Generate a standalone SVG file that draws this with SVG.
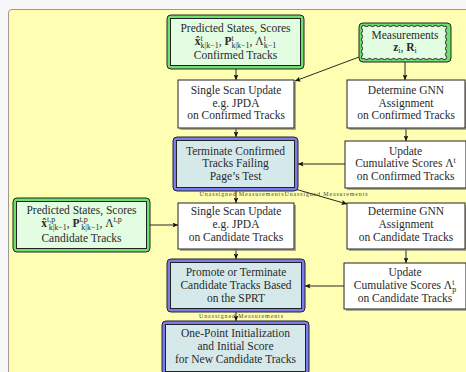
<svg xmlns="http://www.w3.org/2000/svg" width="466" height="372" viewBox="0 0 466 372" font-family="Liberation Serif, serif">
  <defs>
    <marker id="arr" markerUnits="userSpaceOnUse" markerWidth="6" markerHeight="5" refX="5.5" refY="2.5" orient="auto">
      <path d="M0,0 L5.5,2.5 L0,5 L1.2,2.5 z" fill="#111"/>
    </marker>
  </defs>
  <style>
    .t, .lbl { font-family: 'Liberation Serif', serif; fill: #2a2a2a; }
    .t { font-size: 11.5px; text-anchor: middle; }
    .s { font-size: 8px; }
    .b { font-weight: bold; }
    .lbl { font-size: 6px; fill: #4a4a30; text-anchor: middle; }
    .white { fill: #ffffff; stroke: #222; stroke-width: 1; }
    .shadow { fill: #8a8a7a; opacity: 0.7; }
    .gOut { fill: #6ee06e; stroke: #222; stroke-width: 1; }
    .gIn { fill: #e2fde2; stroke: #222; stroke-width: 1; }
    .bOut { fill: #7b7bf0; stroke: #222; stroke-width: 1; }
    .bIn { fill: #d6e9ea; stroke: #222; stroke-width: 1; }
    .edge { fill: none; stroke: #111; stroke-width: 0.9; marker-end: url(#arr); }
  </style>

  <!-- page and panel -->
  <rect x="0" y="0" width="466" height="372" fill="#f7f7f7"/>
  <rect x="8.5" y="9.5" width="470" height="370" rx="3.5" fill="#ffffb4" stroke="#9a9a9a" stroke-width="1"/>

  <!-- connectors -->
  <g id="connectors">
    <line class="edge" x1="236" y1="69" x2="236" y2="80"/>
    <line class="edge" x1="359" y1="57" x2="295" y2="81"/>
    <line class="edge" x1="405" y1="62" x2="405" y2="80"/>
    <line class="edge" x1="236" y1="128" x2="236" y2="137"/>
    <line class="edge" x1="406" y1="128" x2="406" y2="141"/>
    <line class="edge" x1="345" y1="164" x2="298" y2="164"/>
    <line class="edge" x1="236" y1="191" x2="236" y2="203"/>
    <line class="edge" x1="295" y1="189" x2="347" y2="204"/>
    <line class="edge" x1="150" y1="225" x2="178" y2="225"/>
    <line class="edge" x1="236" y1="249" x2="236" y2="259"/>
    <line class="edge" x1="406" y1="249" x2="406" y2="263"/>
    <line class="edge" x1="344" y1="286" x2="305" y2="286"/>
    <line class="edge" x1="236" y1="312" x2="236" y2="321"/>
    <text class="lbl" x="241.5" y="196" textLength="84" lengthAdjust="spacing">Unassigned Measurements</text>
    <text class="lbl" x="326" y="196" textLength="83" lengthAdjust="spacing">Unassigned Measurements</text>
    <text class="lbl" x="241" y="318" textLength="84" lengthAdjust="spacing">Unassigned Measurements</text>
  </g>

  <!-- predicted confirmed tracks -->
  <g id="predConf">
    <rect class="gOut" x="167" y="15" width="137" height="54" rx="4"/>
    <rect class="gIn" x="170.5" y="18.5" width="130" height="47"/>
    <text class="t" x="235.5" y="31.5">Predicted States, Scores</text>
    <text class="t" x="235.5" y="45"><tspan class="b">x̂</tspan><tspan class="s" dy="-4.5">t</tspan><tspan class="s" dx="-2.2" dy="7.5">k|k−1</tspan><tspan dy="-3">, </tspan><tspan class="b">P</tspan><tspan class="s" dy="-4.5">t</tspan><tspan class="s" dx="-2.2" dy="7.5">k|k−1</tspan><tspan dy="-3">, Λ</tspan><tspan class="s" dy="-4.5">t</tspan><tspan class="s" dx="-2.2" dy="7.5">k−1</tspan></text>
    <text class="t" x="235.5" y="59">Confirmed Tracks</text>
  </g>

  <!-- measurements -->
  <g id="meas">
    <rect class="gOut" x="359" y="23" width="92" height="39" rx="4"/>
    <path class="gIn" d="M362,26 q1.5,-1.2 3,0 t3,0 t3,0 t3,0 t3,0 t3,0 t3,0 t3,0 t3,0 t3,0 t3,0 t3,0 t3,0 t3,0 t3,0 t3,0 t3,0 t3,0 t3,0 t3,0 t3,0 t3,0 t3,0 t3,0 t3,0 t3,0 t3,0 t3,0 q1.2,1.5 0,3 t0,3 t0,3 t0,3 t0,3 t0,3 t0,3 t0,3 t0,3 t0,3 t0,3 q-1.5,1.2 -3,0 t-3,0 t-3,0 t-3,0 t-3,0 t-3,0 t-3,0 t-3,0 t-3,0 t-3,0 t-3,0 t-3,0 t-3,0 t-3,0 t-3,0 t-3,0 t-3,0 t-3,0 t-3,0 t-3,0 t-3,0 t-3,0 t-3,0 t-3,0 t-3,0 t-3,0 t-3,0 t-3,0 q-1.2,-1.5 0,-3 t0,-3 t0,-3 t0,-3 t0,-3 t0,-3 t0,-3 t0,-3 t0,-3 t0,-3 t0,-3 z"/>
    <text class="t" x="405" y="38.5">Measurements</text>
    <text class="t" x="405" y="50.5"><tspan class="b">z</tspan><tspan class="s" dy="2.5">i</tspan><tspan dy="-2.5">, </tspan><tspan class="b">R</tspan><tspan class="s" dy="2.5">i</tspan></text>
  </g>

  <!-- single scan update, confirmed -->
  <g id="ssConf">
    <rect class="shadow" x="180" y="82" width="116" height="48"/>
    <rect class="white" x="178" y="80" width="116" height="48"/>
    <text class="t" x="236" y="94">Single Scan Update</text>
    <text class="t" x="236" y="106.5">e.g. JPDA</text>
    <text class="t" x="236" y="119">on Confirmed Tracks</text>
  </g>

  <!-- GNN assignment, confirmed -->
  <g id="gnnConf">
    <rect class="shadow" x="349" y="82" width="118" height="48"/>
    <rect class="white" x="347" y="80" width="118" height="48"/>
    <text class="t" x="406" y="94">Determine GNN</text>
    <text class="t" x="406" y="106.5">Assignment</text>
    <text class="t" x="406" y="119">on Confirmed Tracks</text>
  </g>

  <!-- terminate confirmed -->
  <g id="termConf">
    <rect class="bOut" x="173" y="137" width="125" height="54" rx="4"/>
    <rect class="bIn" x="176.5" y="140.5" width="118" height="47"/>
    <text class="t" x="235.5" y="154.5">Terminate Confirmed</text>
    <text class="t" x="235.5" y="167">Tracks Failing</text>
    <text class="t" x="235.5" y="180">Page’s Test</text>
  </g>

  <!-- cumulative score update, confirmed -->
  <g id="updConf">
    <rect class="shadow" x="347" y="143" width="121" height="47"/>
    <rect class="white" x="345" y="141" width="121" height="47"/>
    <text class="t" x="405.5" y="154.5">Update</text>
    <text class="t" x="405.5" y="167">Cumulative Scores Λ<tspan class="s" dy="-4.5">t</tspan></text>
    <text class="t" x="405.5" y="180">on Confirmed Tracks</text>
  </g>

  <!-- predicted candidate tracks -->
  <g id="predCand">
    <rect class="gOut" x="13" y="198" width="137" height="54" rx="4"/>
    <rect class="gIn" x="16.5" y="201.5" width="130" height="47"/>
    <text class="t" x="81.5" y="214">Predicted States, Scores</text>
    <text class="t" x="81.5" y="226.5"><tspan class="b">x̂</tspan><tspan class="s" dy="-4.5">t,p</tspan><tspan class="s" dx="-6.5" dy="7.5">k|k−1</tspan><tspan dy="-3">, </tspan><tspan class="b">P</tspan><tspan class="s" dy="-4.5">t,p</tspan><tspan class="s" dx="-6.5" dy="7.5">k|k−1</tspan><tspan dy="-3">, Λ</tspan><tspan class="s" dy="-4.5">t,p</tspan></text>
    <text class="t" x="81.5" y="241.5">Candidate Tracks</text>
  </g>

  <!-- single scan update, candidate -->
  <g id="ssCand">
    <rect class="shadow" x="180" y="205" width="116" height="46"/>
    <rect class="white" x="178" y="203" width="116" height="46"/>
    <text class="t" x="236" y="215">Single Scan Update</text>
    <text class="t" x="236" y="227.5">e.g. JPDA</text>
    <text class="t" x="236" y="240.5">on Candidate Tracks</text>
  </g>

  <!-- GNN assignment, candidate -->
  <g id="gnnCand">
    <rect class="shadow" x="349" y="205" width="118" height="46"/>
    <rect class="white" x="347" y="203" width="118" height="46"/>
    <text class="t" x="406" y="215">Determine GNN</text>
    <text class="t" x="406" y="227.5">Assignment</text>
    <text class="t" x="406" y="240.5">on Candidate Tracks</text>
  </g>

  <!-- promote / terminate candidates -->
  <g id="promote">
    <rect class="bOut" x="167" y="259" width="138" height="53" rx="4"/>
    <rect class="bIn" x="170.5" y="262.5" width="131" height="46"/>
    <text class="t" x="236" y="275.5">Promote or Terminate</text>
    <text class="t" x="236" y="289">Candidate Tracks Based</text>
    <text class="t" x="236" y="301.5">on the SPRT</text>
  </g>

  <!-- cumulative score update, candidate -->
  <g id="updCand">
    <rect class="shadow" x="346" y="265" width="122" height="46"/>
    <rect class="white" x="344" y="263" width="122" height="46"/>
    <text class="t" x="405" y="275.5">Update</text>
    <text class="t" x="405" y="289">Cumulative Scores Λ<tspan class="s" dy="-4.5">t</tspan><tspan class="s" dx="-2.2" dy="7.5">p</tspan></text>
    <text class="t" x="405" y="301.5">on Candidate Tracks</text>
  </g>

  <!-- one-point initialization -->
  <g id="onePoint">
    <rect class="bOut" x="162" y="321" width="147" height="54" rx="4"/>
    <rect class="bIn" x="165.5" y="324.5" width="140" height="47"/>
    <text class="t" x="235.5" y="337">One-Point Initialization</text>
    <text class="t" x="235.5" y="350">and Initial Score</text>
    <text class="t" x="235.5" y="362.5">for New Candidate Tracks</text>
  </g>
</svg>
